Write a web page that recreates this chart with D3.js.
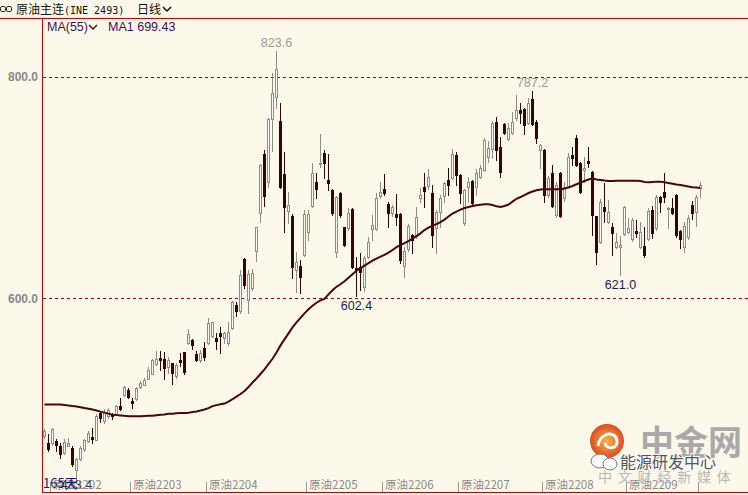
<!DOCTYPE html>
<html><head><meta charset="utf-8">
<script src="https://cdn.jsdelivr.net/npm/d3@7"></script>
<style>
html,body{margin:0;padding:0;background:#fdf9ea;}
svg{display:block;}
</style></head><body>
<svg id="c" width="748" height="495"></svg>
<script>
// ---- data ----
const opens = [476.0,469.7,469.7,471.5,467.0,460.6,467.0,465.2,445.3,455.2,464.3,471.5,475.1,472.4,496.8,489.6,494.1,495.9,495.9,503.2,
513.1,516.8,507.7,509.5,519.5,522.2,527.6,532.1,540.3,545.7,544.8,537.6,541.2,530.3,543.9,551.1,559.3,562.0,549.3,543.9,
554.8,559.3,565.6,563.8,568.3,563.8,559.3,572.9,593.7,588.2,635.3,598.2,609.1,642.5,676.9,730.3,705.0,762.0,781.9,760.2,
712.2,678.7,674.2,625.4,629.0,638.9,659.7,683.3,705.0,721.3,731.2,706.8,697.8,641.6,695.0,664.3,663.4,680.6,627.2,628.1,
610.0,637.1,662.5,662.5,692.3,698.7,685.1,676.9,676.0,676.0,629.0,644.4,657.0,656.1,690.5,700.5,701.4,695.0,663.4,677.8,
692.3,706.8,708.6,729.4,711.3,667.9,700.5,705.9,700.5,709.5,715.8,727.6,734.9,759.3,736.7,757.5,743.9,749.3,762.9,770.2,
771.1,758.4,780.1,759.3,734.0,734.0,693.2,713.1,675.1,713.1,690.5,701.4,729.4,744.8,722.2,715.8,724.0,714.0,674.2,650.7,
682.4,668.8,664.3,646.2,646.2,657.9,659.7,653.4,660.6,646.2,647.1,653.4,679.7,663.4,691.4,695.9,680.6,681.5,693.2,660.6,
646.2,655.2,684.2,677.8,699.6];
const highs = [482.4,477.8,483.0,473.3,469.7,473.3,474.2,467.0,455.8,467.0,473.3,480.6,483.3,495.9,498.7,500.5,501.4,496.8,504.1,510.4,
520.4,518.6,510.4,519.5,525.8,528.5,537.6,544.8,552.0,552.0,551.1,546.6,541.8,541.2,550.2,551.6,572.0,562.9,552.0,553.0,
560.2,581.9,578.8,568.3,573.8,569.2,578.3,597.3,596.4,625.4,636.2,625.4,626.3,664.8,720.9,734.0,762.9,803.6,823.6,776.5,
732.1,695.9,676.0,641.6,634.4,679.7,679.7,722.2,713.1,748.4,734.0,730.3,698.3,691.9,695.5,664.8,681.5,681.1,637.1,640.7,
638.0,655.2,675.1,695.0,705.0,712.2,686.9,684.2,694.1,676.9,646.2,667.0,657.9,682.4,699.6,713.1,716.8,702.3,679.7,693.2,
705.0,717.7,734.9,732.1,712.2,698.7,709.5,706.4,716.8,720.4,744.8,742.1,760.2,763.8,745.7,758.4,758.4,768.3,783.7,776.5,
771.6,781.0,787.2,761.1,739.4,734.9,710.4,720.4,705.0,713.6,705.0,731.2,736.7,747.5,723.1,727.6,736.7,714.5,674.7,689.6,
704.1,688.7,667.9,658.8,656.1,683.3,672.4,672.4,670.6,668.8,664.3,681.5,683.3,693.2,691.9,713.1,682.4,690.5,693.7,661.6,
668.8,675.1,688.0,693.2,705.0];
const lows = [474.2,462.5,467.9,462.5,456.1,459.7,466.5,448.9,433.4,454.3,462.5,470.6,469.7,471.8,488.7,487.8,492.3,491.4,495.0,499.6,
512.2,510.4,501.4,508.6,518.6,521.3,527.0,531.5,539.4,534.9,527.6,533.0,523.1,528.5,538.5,532.1,558.4,553.9,543.0,542.1,
543.9,558.4,564.7,553.9,550.2,559.3,557.5,572.0,583.7,586.4,609.1,586.4,607.3,633.5,668.8,683.3,700.5,733.0,772.0,700.0,
659.7,667.9,618.1,605.4,604.5,638.0,652.5,682.4,690.5,718.6,708.6,697.8,675.1,637.1,673.3,647.1,661.6,627.2,602.4,607.3,
606.3,636.2,652.5,661.6,690.5,693.2,664.3,674.2,666.1,631.7,619.0,642.5,640.7,654.3,686.9,682.4,698.7,646.2,640.7,664.3,
686.9,693.2,707.7,702.3,686.0,666.1,686.9,684.2,693.2,708.6,714.9,723.1,726.7,724.9,709.5,748.4,743.0,748.4,761.1,758.4,
748.4,757.5,756.6,740.3,717.7,686.9,691.4,682.4,673.3,673.3,687.8,700.5,720.4,719.5,695.0,705.0,718.6,657.0,630.8,650.2,
668.8,667.9,638.9,645.7,621.0,657.0,658.8,651.6,655.2,645.3,637.1,652.5,654.3,661.6,677.8,686.9,663.4,676.4,655.2,645.3,
641.6,653.4,671.5,665.2,691.4];
const closes = [480.6,464.3,482.4,467.9,459.7,470.6,469.7,450.7,455.2,465.2,472.4,478.7,473.3,494.1,492.3,497.7,499.6,494.1,503.2,500.5,
519.5,511.3,505.9,518.6,524.0,526.7,534.9,543.9,544.8,543.9,536.7,543.9,533.0,539.4,542.1,533.9,567.4,557.5,543.9,550.2,
546.6,577.4,578.3,561.1,565.6,568.3,569.2,596.4,588.2,620.8,611.8,621.7,622.6,664.3,720.4,692.3,762.0,785.5,807.3,700.5,
682.4,684.2,628.1,632.6,619.0,676.0,676.0,713.1,698.7,722.2,722.2,704.1,676.9,691.4,675.1,648.0,676.9,628.1,625.4,623.5,
636.2,650.7,666.1,690.5,695.9,695.0,676.9,682.4,673.3,634.4,642.5,665.2,652.5,673.3,693.2,696.8,709.5,657.0,677.8,690.5,
704.1,702.3,730.3,711.3,695.0,697.8,705.0,686.0,713.1,717.7,743.0,735.8,758.4,734.0,714.0,749.3,753.9,759.3,770.2,767.4,
756.6,776.5,757.5,744.8,738.5,693.2,708.6,683.3,702.3,674.2,700.5,727.6,726.7,720.4,695.9,717.7,722.2,675.1,641.6,686.9,
678.7,677.8,658.8,650.7,648.0,682.4,663.4,670.6,658.8,659.7,638.9,678.7,658.8,691.4,686.9,691.4,681.5,676.9,657.0,653.4,
665.2,672.4,677.0,691.4,702.3];
const ma55 = [504.1,504.1,504.1,504.1,504.1,503.8,503.2,502.7,502.3,501.6,500.9,500.3,499.6,498.7,497.7,496.8,495.9,495.0,494.6,494.3,
493.9,493.6,493.5,493.5,493.5,493.7,493.9,494.1,494.5,494.9,495.2,495.7,495.9,496.2,496.4,496.5,496.8,497.3,497.9,498.7,
499.6,500.9,502.7,503.6,504.3,505.0,506.8,508.9,511.3,513.6,516.3,519.9,524.0,527.6,531.7,535.8,540.7,545.4,551.1,557.5,
562.9,568.3,573.8,578.3,582.4,586.4,590.1,593.2,596.0,598.2,599.5,603.6,607.3,610.4,612.7,615.4,618.5,621.7,624.9,627.2,
629.4,631.7,634.0,635.8,637.6,639.2,641.2,643.6,646.2,648.0,649.8,651.6,653.9,656.1,658.6,661.6,663.8,665.6,667.0,668.8,
671.0,673.8,676.5,678.3,680.1,681.5,682.4,683.3,683.9,684.4,684.8,684.8,684.2,683.0,682.4,683.3,684.6,687.2,689.8,691.4,
693.2,695.0,696.4,697.5,698.2,698.4,698.5,698.5,698.5,698.5,699.1,700.0,701.4,702.9,704.3,705.9,707.2,708.3,707.2,706.8,
706.3,705.9,705.9,706.1,706.2,706.2,706.2,706.2,706.2,705.9,705.0,704.7,705.0,705.3,705.3,704.7,704.1,703.4,702.7,702.3,
701.6,700.9,700.3,700.0,699.43];
const monthStarts = [2, 22, 41, 66, 85, 104, 125, 146, 164];
const monthLabels = ["原油2202","原油2203","原油2204","原油2205","原油2206","原油2207","原油2208","原油2209",""];
const yTicks = [600, 800];
const markHighIdx = [58, 122];
const markLowIdx = [8, 78, 144];
const titleMain = "原油主连";
const titleCode = "(INE 2493)";
const titlePeriod = "日线";
const maName = "MA(55)";
const maLabel = "MA1 699.43";
const dayCount = "165天";

// ---- drawing ----
const W = 748, H = 495;
const BG = "#fdf9ea", RED = "#cc0000", UP = "#8c8c8c", DOWN = "#330606", MA = "#4a0505";
const svg = d3.select("#c");
svg.append("rect").attr("width", W).attr("height", H).attr("fill", BG);

const n = closes.length;
const x = d3.scaleBand().domain(d3.range(n)).range([42, 42 + 4 * n]);
const y = d3.scaleLinear().domain([600, 800]).range([298.3, 76.7]);
const cx = i => x(i) + 2.5;

svg.append("clipPath").attr("id", "plot").append("rect")
  .attr("x", 43).attr("y", 19).attr("width", W - 43).attr("height", 472);

// dashed grid
svg.append("g").selectAll("line").data(yTicks).join("line")
  .attr("x1", 43).attr("x2", W)
  .attr("y1", d => Math.round(y(d)) + 0.5).attr("y2", d => Math.round(y(d)) + 0.5)
  .attr("stroke", "#a00000").attr("stroke-width", 1).attr("stroke-dasharray", "3,3");

// y axis labels
const yAxis = d3.axisLeft(y).tickValues(yTicks).tickFormat(d3.format(".1f")).tickSize(0).tickPadding(3);
const ya = svg.append("g").attr("transform", "translate(41,0)").call(yAxis);
ya.select(".domain").remove();
ya.selectAll("text").attr("fill", "#888").attr("font-family", "Liberation Sans, Arial, sans-serif")
  .attr("font-size", 12).attr("font-weight", "bold");

const plot = svg.append("g").attr("clip-path", "url(#plot)");

// candles
const idx = d3.range(n);
const up = i => closes[i] >= opens[i];
const g = plot.append("g");
idx.forEach(i => {
  const top = Math.round(y(Math.max(opens[i], closes[i])));
  const bot = Math.round(y(Math.min(opens[i], closes[i])));
  const hi = Math.round(y(highs[i])), lo = Math.round(y(lows[i]));
  const wx = x(i) + 2.5;
  if (up(i)) {
    g.append("line").attr("x1", wx).attr("x2", wx).attr("y1", hi).attr("y2", top)
      .attr("stroke", UP);
    g.append("line").attr("x1", wx).attr("x2", wx).attr("y1", bot + 1).attr("y2", lo + 1)
      .attr("stroke", UP);
    if (bot - top >= 1) {
      g.append("rect").attr("x", x(i) + 1.5).attr("y", top + 0.5).attr("width", 2)
        .attr("height", bot - top).attr("fill", BG).attr("stroke", UP);
    } else {
      g.append("line").attr("x1", x(i) + 1).attr("x2", x(i) + 4).attr("y1", top + 0.5).attr("y2", top + 0.5)
        .attr("stroke", UP);
    }
  } else {
    g.append("line").attr("x1", wx).attr("x2", wx).attr("y1", hi).attr("y2", lo + 1)
      .attr("stroke", DOWN);
    g.append("rect").attr("x", x(i) + 1).attr("y", top).attr("width", 3)
      .attr("height", Math.max(1, bot - top + 1)).attr("fill", DOWN);
  }
});

// MA line
plot.append("path").datum(ma55)
  .attr("d", d3.line().x((d, i) => cx(i)).y(d => y(d)))
  .attr("fill", "none").attr("stroke", MA).attr("stroke-width", 2);

// high / low marks
const numFont = "Liberation Sans, Arial, sans-serif";
svg.append("g").selectAll("text").data(markHighIdx).join("text")
  .attr("x", i => cx(i)).attr("y", i => y(highs[i]) - 4)
  .attr("text-anchor", "middle").attr("font-family", numFont).attr("font-size", 12.5)
  .attr("fill", "#9a9a9a").text(i => highs[i].toFixed(1));
svg.append("g").selectAll("text").data(markLowIdx).join("text")
  .attr("x", i => cx(i)).attr("y", i => Math.min(489, y(lows[i]) + 14))
  .attr("text-anchor", "middle").attr("font-family", numFont).attr("font-size", 12.5)
  .attr("fill", "#1c2048").text(i => lows[i].toFixed(1));

// frame lines
svg.append("line").attr("x1", 0).attr("x2", W).attr("y1", 18.5).attr("y2", 18.5).attr("stroke", RED);
svg.append("line").attr("x1", 42.5).attr("x2", 42.5).attr("y1", 18).attr("y2", 493).attr("stroke", RED);
svg.append("line").attr("x1", 42).attr("x2", W).attr("y1", 492.5).attr("y2", 492.5).attr("stroke", RED);

// month axis
const mg = svg.append("g").selectAll("g").data(monthStarts).join("g")
  .attr("transform", i => `translate(${x(i) + 0.5},0)`);
mg.append("line").attr("y1", 482).attr("y2", 492).attr("stroke", "#999");
mg.append("text").attr("x", 2.5).attr("y", 489).attr("font-family", "Noto Sans CJK SC, sans-serif")
  .attr("font-size", 11.5).attr("fill", "#8a8a8a").text((d, k) => monthLabels[k]);

svg.append("text").attr("x", 43).attr("y", 488).attr("font-family", "Noto Sans CJK SC, sans-serif")
  .attr("font-size", 13).attr("fill", "#1a1a7a").text(dayCount);

// header
const hdr = svg.append("g");
hdr.append("rect").attr("x", 0.5).attr("y", 6.5).attr("width", 5).attr("height", 5).attr("rx", 1.5)
  .attr("fill", "none").attr("stroke", "#333");
hdr.append("rect").attr("x", 6.5).attr("y", 6.5).attr("width", 5).attr("height", 5).attr("rx", 1.5)
  .attr("fill", "none").attr("stroke", "#333");
hdr.append("text").attr("x", 16).attr("y", 14).attr("font-family", "Noto Sans CJK SC, sans-serif")
  .attr("font-size", 12).attr("fill", "#111").text(titleMain);
hdr.append("text").attr("x", 64).attr("y", 13.5).attr("font-family", "DejaVu Sans Mono, monospace")
  .attr("font-size", 10).attr("fill", "#111").text(titleCode);
hdr.append("text").attr("x", 137).attr("y", 14).attr("font-family", "Noto Sans CJK SC, sans-serif")
  .attr("font-size", 12).attr("fill", "#111").text(titlePeriod);
hdr.append("path").attr("d", "M163,7 L167,11 L171,7").attr("fill", "none").attr("stroke", "#111").attr("stroke-width", 1.5);

// MA legend
const lg = svg.append("g").attr("font-family", numFont).attr("font-size", 12.5).attr("fill", "#3a1060");
lg.append("text").attr("x", 47).attr("y", 31).text(maName);
lg.append("path").attr("d", "M89,25 L93,29 L97,25").attr("fill", "none").attr("stroke", "#5a1010").attr("stroke-width", 1.5);
lg.append("text").attr("x", 108).attr("y", 31).text(maLabel);

// watermark
const wm = svg.append("g");
const grad = svg.append("defs").append("radialGradient").attr("id", "lg1");
grad.append("stop").attr("offset", "0%").attr("stop-color", "#f7b030");
grad.append("stop").attr("offset", "100%").attr("stop-color", "#d83a10");
wm.append("circle").attr("cx", 607).attr("cy", 441).attr("r", 17).attr("fill", "url(#lg1)").attr("opacity", 0.9);
wm.append("path").attr("d", "M598,446 C600,432 616,430 617,441 C618,449 606,450 605,443")
  .attr("fill", "none").attr("stroke", "#fff").attr("stroke-width", 3);
wm.append("text").attr("x", 640).attr("y", 455).attr("font-family", "Noto Sans CJK SC, sans-serif")
  .attr("font-weight", "bold").attr("font-size", 34).attr("fill", "#9c9c9c").attr("opacity", 0.85).text("中金网");
wm.append("ellipse").attr("cx", 600).attr("cy", 461).attr("rx", 9).attr("ry", 7)
  .attr("fill", "#fff").attr("stroke", "#777");
wm.append("ellipse").attr("cx", 610).attr("cy", 464).attr("rx", 7).attr("ry", 6)
  .attr("fill", "#fff").attr("stroke", "#777");
wm.append("text").attr("x", 620).attr("y", 468).attr("font-family", "Noto Sans CJK SC, sans-serif")
  .attr("font-size", 16).attr("fill", "#555").attr("stroke", "#fff").attr("stroke-width", 2)
  .attr("paint-order", "stroke").text("能源研发中心");
wm.append("text").attr("x", 598).attr("y", 482).attr("font-family", "Noto Sans CJK SC, sans-serif")
  .attr("font-size", 14).attr("letter-spacing", 5.8).attr("fill", "#b8b8b8").text("中文财经新媒体");
</script>
</body></html>
